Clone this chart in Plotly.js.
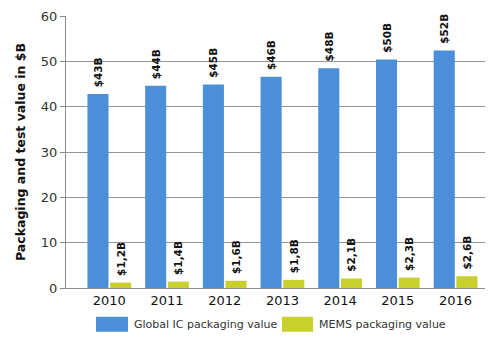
<!DOCTYPE html>
<html>
<head>
<meta charset="utf-8">
<script src="https://cdn.plot.ly/plotly-3.0.1.min.js"></script>
<style>html,body{margin:0;padding:0;background:#fff;}#chart{width:500px;height:340px;}</style>
</head>
<body>
<div id="chart"></div>
<script>
var years = ['2010','2011','2012','2013','2014','2015','2016'];
var icValues = [42.8, 44.6, 44.9, 46.6, 48.5, 50.4, 52.4];
var memsValues = [1.2, 1.4, 1.6, 1.8, 2.1, 2.3, 2.6];
var icLabels = ['$43B','$44B','$45B','$46B','$48B','$50B','$52B'];
var memsLabels = ['$1,2B','$1,4B','$1,6B','$1,8B','$2,1B','$2,3B','$2,6B'];
var seriesNames = ['Global IC packaging value', 'MEMS packaging value'];
var seriesColors = ['#4a8fd8', '#c9cf2c'];

var FONT = 'DejaVu Sans, Verdana, sans-serif';

function barTrace(vals, labels, name, color) {
  return {
    type: 'bar', x: years, y: vals, name: name,
    marker: {color: color, line: {width: 0}},
    text: labels, texttemplate: '\u00a0%{text}', textposition: 'outside', textangle: -90,
    constraintext: 'none', cliponaxis: false,
    textfont: {family: FONT, size: 10.5, color: '#111', weight: 'bold'},
    hoverinfo: 'x+y'
  };
}

var data = [
  barTrace(icValues, icLabels, seriesNames[0], seriesColors[0]),
  barTrace(memsValues, memsLabels, seriesNames[1], seriesColors[1])
];

// custom legend (wide swatches) in paper coordinates
var shapes = [];
var annotations = [];
var legendX = [[0.0716, 0.148, 0.157], [0.5155, 0.5895, 0.600]];
for (var i = 0; i < seriesNames.length; i++) {
  shapes.push({type: 'rect', xref: 'paper', yref: 'paper',
    x0: legendX[i][0], x1: legendX[i][1], y0: -0.106, y1: -0.161,
    fillcolor: seriesColors[i], line: {width: 0}});
  annotations.push({xref: 'paper', yref: 'paper', x: legendX[i][2], y: -0.133,
    xanchor: 'left', yanchor: 'middle', showarrow: false,
    text: seriesNames[i], font: {family: FONT, size: 11, color: '#333'}});
}

var layout = {
  width: 500, height: 340,
  margin: {l: 66, r: 15, t: 16, b: 52},
  paper_bgcolor: '#fff', plot_bgcolor: '#fff',
  barmode: 'group', bargap: 0.215, bargroupgap: 0.07,
  showlegend: false,
  font: {family: FONT, color: '#222'},
  xaxis: {
    type: 'category', range: [-0.75, 6.51],
    showline: true, linecolor: '#8c8c8c', linewidth: 1,
    showgrid: false, ticks: '', zeroline: false,
    tickfont: {family: FONT, size: 13, color: '#111'}
  },
  yaxis: {
    range: [0, 60], dtick: 10, tick0: 0,
    showline: true, linecolor: '#8c8c8c', linewidth: 1,
    showgrid: true, gridcolor: '#949494', gridwidth: 1,
    zeroline: false, ticks: 'outside', ticklen: 5, tickcolor: '#8c8c8c',
    tickfont: {family: FONT, size: 13, color: '#333'},
    title: {text: 'Packaging and test value in $B', standoff: 12,
      font: {family: FONT, size: 12.5, color: '#111', weight: 'bold'}}
  },
  shapes: shapes,
  annotations: annotations
};

Plotly.newPlot('chart', data, layout, {staticPlot: true, displayModeBar: false});
</script>
</body>
</html>
